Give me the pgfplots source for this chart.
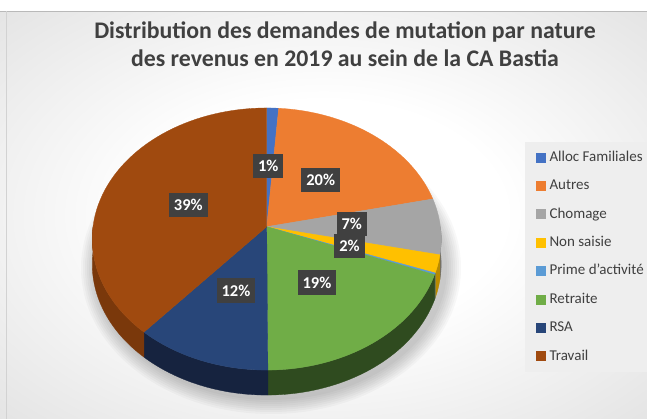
\documentclass[border=0pt]{standalone}
\usepackage{pgfplots}
\pgfplotsset{compat=1.18}
\usepackage{pgfplotstable}
\usepackage{fontspec}
\setmainfont{Carlito}

\definecolor{cAlloc}{HTML}{4472C4}
\definecolor{cAutres}{HTML}{ED7D31}
\definecolor{cChom}{HTML}{A5A5A5}
\definecolor{cNon}{HTML}{FFC000}
\definecolor{cPrime}{HTML}{5B9BD5}
\definecolor{cRetr}{HTML}{70AD47}
\definecolor{cRSA}{HTML}{284679}
\definecolor{cTrav}{HTML}{A04A0F}
\definecolor{wAlloc}{HTML}{2A4A85}
\definecolor{wAutres}{HTML}{A85520}
\definecolor{wChom}{HTML}{6E6E6E}
\definecolor{wNon}{HTML}{B88A00}
\definecolor{wPrime}{HTML}{3A6D9A}
\definecolor{wRetr}{HTML}{2F4B1F}
\definecolor{wRSA}{HTML}{16233F}
\definecolor{wTrav}{HTML}{7A380B}
\definecolor{txt}{HTML}{404040}
\definecolor{lbl}{HTML}{404040}
\definecolor{bgedge}{HTML}{D2D2D2}
\definecolor{legbg}{HTML}{EEEEEE}

\pgfdeclareradialshading{bgshade}{\pgfpoint{0bp}{0bp}}{color(0bp)=(white); color(14bp)=(white); color(50bp)=(bgedge)}

% shares (percent) in legend order
\pgfplotstableread{
idx value
0 1.2
1 20.3
2 6.9
3 2.2
4 0.2
5 19.1
6 11.5
7 38.6
}\piedata

\newcommand\pieang[1]{\csname pieang#1\endcsname}
\newcommand\topslice[2]{%
  \pgfmathtruncatemacro\kk{#1+1}%
  \edef\sA{\pieang{#1}}\edef\sB{\pieang{\kk}}%
  \edef\tmp{\noexpand\addplot[fill=#2, draw=#2, line width=0.3pt, domain=\sA:\sB, samples=60] ({px(x)},{py(x)}) -- (axis cs:266.7,226.7) -- cycle;}\tmp}
\newcommand\wallslice[2]{%
  \pgfmathtruncatemacro\kk{#1+1}%
  \pgfmathsetmacro\sA{max(\pieang{#1},90)}%
  \pgfmathsetmacro\sB{min(\pieang{\kk},270)}%
  \pgfmathtruncatemacro\ok{(\sB>\sA)}%
  \ifnum\ok>0
  \edef\tmp{\noexpand\addplot[fill=#2, draw=#2, line width=0.3pt, domain=0:2.1, samples=85, forget plot] ({px(\sA+(\sB-\sA)*max(0,min(1,1.05-abs(1.05-x))))},{py(\sA+(\sB-\sA)*max(0,min(1,1.05-abs(1.05-x))))+25*(x>1.05)}) -- cycle;}\tmp
  \fi}

\tikzset{lblbox/.style={fill=lbl, text=white, font=\bfseries\fontsize{16.5}{18}\selectfont, inner xsep=5pt, inner ysep=0pt, text height=11pt, text depth=0pt, minimum height=24pt}}

\begin{document}
\begin{tikzpicture}
\def\runsum{0}%
\expandafter\xdef\csname pieang0\endcsname{0}%
\pgfplotsforeachungrouped \i in {0,...,7}{%
  \pgfplotstablegetelem{\i}{value}\of\piedata
  \pgfmathsetmacro\runsum{\runsum+3.6*\pgfplotsretval}%
  \pgfmathtruncatemacro\j{\i+1}%
  \expandafter\xdef\csname pieang\j\endcsname{\runsum}%
}%
\begin{axis}[
  scale only axis, width=647pt, height=419pt,
  xmin=0, xmax=647, ymin=0, ymax=419, y dir=reverse,
  hide axis, clip=false,
  declare function={px(\a)=266.7+173.7*sin(\a)/(1+0.094*cos(\a)); py(\a)=226.7-129.9*cos(\a)/(1+0.094*cos(\a));},
  legend style={at={(axis cs:533,148)}, anchor=north west, draw=none, fill=none,
    font=\fontsize{15}{17}\selectfont, text=txt, row sep=14.4pt,
    nodes={inner sep=0pt, text height=11pt, text depth=3pt},
    /tikz/every odd column/.append style={column sep=4pt}},
  legend cell align=left,
  legend image code/.code={\fill[#1] (0pt,-4.5pt) rectangle (9pt,4.5pt);},
]
% background
\path[shading=bgshade] (axis cs:0,11) rectangle (axis cs:647,419);
\fill[white] (axis cs:0,0) rectangle (axis cs:647,11);
\draw[gray!55, line width=0.8pt] (axis cs:0,11) -- (axis cs:647,11);
\draw[gray!35, line width=1pt] (axis cs:7,11) -- (axis cs:7,419);
\fill[legbg] (axis cs:525,142) rectangle (axis cs:647,372);
% soft shadow
\pgfplotsinvokeforeach{0,...,7}{
  \fill[black, opacity=0.028] (axis cs:271,268) ellipse [x radius={176+2*#1}, y radius={132+2*#1}];
}
% side walls
\wallslice{0}{wAlloc}
\wallslice{1}{wAutres}
\wallslice{2}{wChom}
\wallslice{3}{wNon}
\wallslice{4}{wPrime}
\wallslice{5}{wRetr}
\wallslice{6}{wRSA}
\wallslice{7}{wTrav}
% top faces
\topslice{0}{cAlloc}\addlegendentry{Alloc Familiales}
\topslice{1}{cAutres}\addlegendentry{Autres}
\topslice{2}{cChom}\addlegendentry{Chomage}
\topslice{3}{cNon}\addlegendentry{Non saisie}
\topslice{4}{cPrime}\addlegendentry{Prime d'activité}
\topslice{5}{cRetr}\addlegendentry{Retraite}
\topslice{6}{cRSA}\addlegendentry{RSA}
\topslice{7}{cTrav}\addlegendentry{Travail}
% data labels
\node[lblbox] at (axis cs:268.3,166) {1\%};
\node[lblbox] at (axis cs:320.7,180.5) {20\%};
\node[lblbox] at (axis cs:351.7,223.7) {7\%};
\node[lblbox] at (axis cs:349.5,245.7) {2\%};
\node[lblbox] at (axis cs:317,282.5) {19\%};
\node[lblbox] at (axis cs:236,290.5) {12\%};
\node[lblbox] at (axis cs:188.3,204.7) {39\%};
% title
\node[font=\bfseries\fontsize{23.8}{27}\selectfont, text=txt, anchor=base] at (axis cs:345,38.5) {Distribution des demandes de mutation par nature};
\node[font=\bfseries\fontsize{23.8}{27}\selectfont, text=txt, anchor=base] at (axis cs:345,67) {des revenus en 2019 au sein de la CA Bastia};
\coordinate (P1) at (axis cs:0,0);
\coordinate (P2) at (axis cs:647,419);
\end{axis}
\pgfresetboundingbox
\path (P1) rectangle (P2);
\end{tikzpicture}
\end{document}
